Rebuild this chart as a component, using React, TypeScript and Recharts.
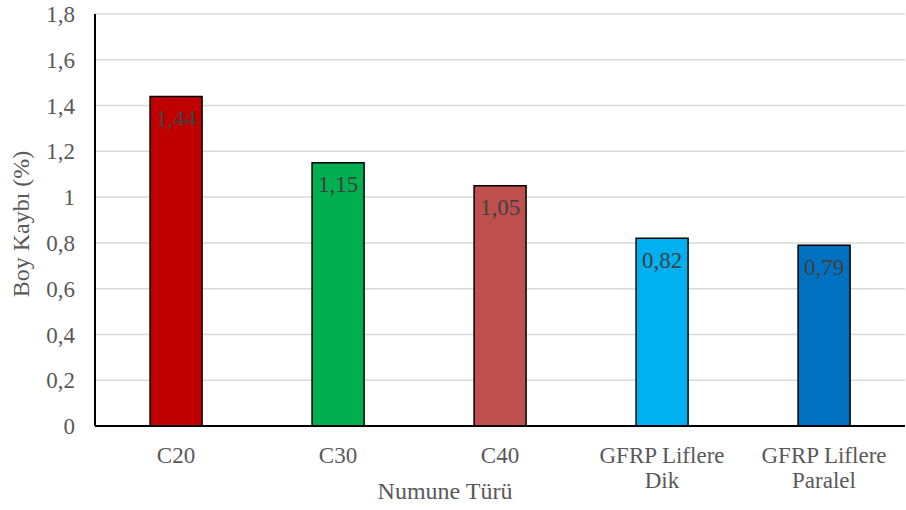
import React from 'react';
import { BarChart, Bar, XAxis, YAxis, CartesianGrid, LabelList, Cell } from 'recharts';

const categories = ['C20', 'C30', 'C40', 'GFRP Liflere\nDik', 'GFRP Liflere\nParalel'];
const boyKaybi = [1.44, 1.15, 1.05, 0.82, 0.79];
const barColors = ['#C00000', '#00B050', '#C0504D', '#00B0F0', '#0070C0'];
const yTicks = [0, 0.2, 0.4, 0.6, 0.8, 1, 1.2, 1.4, 1.6, 1.8];

const data = categories.map((name, i) => ({ name, value: boyKaybi[i] }));

const fmt = (v: number) => String(v).replace('.', ',');
const FONT = '"Liberation Serif", "Times New Roman", serif';

const CategoryTick = (props: any) => {
  const { x, y, payload } = props;
  const lines = String(payload.value).split('\n');
  return (
    <g transform={`translate(${x},${y})`}>
      {lines.map((ln, i) => (
        <text key={i} x={0} y={29 + i * 25} textAnchor="middle" fill="#595959" fontSize={23} fontFamily={FONT}>
          {ln}
        </text>
      ))}
    </g>
  );
};

const App: React.FC = () => {
  return (
    <div style={{ position: 'absolute', left: 0, top: 0, width: 906, height: 510, background: '#fff' }}>
      <BarChart width={906} height={510} data={data} margin={{ top: 14, right: 1, left: 0, bottom: 0 }} barCategoryGap="34%">
        <CartesianGrid vertical={false} stroke="#d9d9d9" strokeWidth={1.5} />
        <XAxis
          dataKey="name"
          tick={<CategoryTick />}
          tickLine={false}
          axisLine={{ stroke: '#000', strokeWidth: 2 }}
          interval={0}
          height={84}
          label={{ value: 'Numune Türü', position: 'insideBottom', offset: 11, dx: -55, fill: '#595959', fontSize: 24, fontFamily: FONT }}
        />
        <YAxis
          domain={[0, 1.8]}
          ticks={yTicks}
          tickFormatter={fmt}
          width={95}
          tickLine={false}
          axisLine={{ stroke: '#000', strokeWidth: 2 }}
          tick={{ fill: '#595959', fontSize: 23, fontFamily: FONT, dx: -12 }}
          label={{ value: 'Boy Kaybı (%)', angle: -90, position: 'insideLeft', offset: 20, dy: 4, fill: '#595959', fontSize: 24, fontFamily: FONT, style: { textAnchor: 'middle' } }}
        />
        <Bar dataKey="value" stroke="#000" strokeWidth={1.5} isAnimationActive={false}>
          {data.map((d, i) => (
            <Cell key={d.name} fill={barColors[i]} />
          ))}
          <LabelList dataKey="value" position="insideTop" offset={13} formatter={(v: any) => fmt(v)} fill="#404040" fontSize={23} fontFamily={FONT} />
        </Bar>
      </BarChart>
    </div>
  );
};

export default App;
